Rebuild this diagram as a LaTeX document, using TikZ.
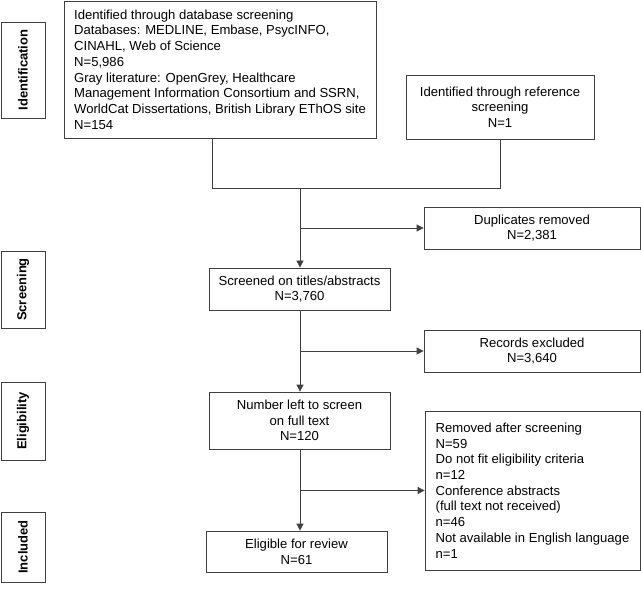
\documentclass[tikz,border=0pt]{standalone}
\usepackage{fontspec}
\setmainfont{Liberation Sans}
\usetikzlibrary{arrows.meta}
\begin{document}
\begin{tikzpicture}[x=1pt,y=-1pt,
  box/.style={draw=black!75, line width=0.8pt, rectangle, inner sep=0pt, font=\fontsize{13.1}{15.7}\selectfont, align=center},
  lbox/.style={box, align=left},
  side/.style={draw=black!75, line width=0.8pt, rectangle, inner sep=0pt, rotate=90, minimum height=44pt, font=\fontsize{13}{15}\selectfont\bfseries},
  conn/.style={draw=black!75, line width=0.8pt},
  arr/.style={conn, -{Triangle[length=7pt,width=7pt]}}]
\useasboundingbox (0,0) rectangle (641,591);
% side labels
\node[side, minimum width=96pt] (sid) at (23,70) {Identification};
\node[side, minimum width=77pt] (sscr) at (23,289.5) {Screening};
\node[side, minimum width=78pt] (selig) at (23,421) {Eligibility};
\node[side, minimum width=70pt] (sinc) at (23,547) {Included};
% boxes
\node[lbox, minimum width=312pt, minimum height=137pt] (db) at (220,69.5) {Identified through database screening\\
Databases: MEDLINE, Embase, PsycINFO,\\
CINAHL, Web of Science\\
N=5,986\\
Gray literature: OpenGrey, Healthcare\\
Management Information Consortium and SSRN,\\
WorldCat Dissertations, British Library EThOS site\\
N=154};
\node[box, minimum width=188pt, minimum height=64pt] (ref) at (500,107) {Identified through reference\\ screening\\ N=1};
\node[box, minimum width=216pt, minimum height=42pt] (dup) at (532,228) {Duplicates removed\\ N=2,381};
\node[box, minimum width=181pt, minimum height=42pt] (scr) at (299.5,289) {Screened on titles/abstracts\\ N=3,760};
\node[box, minimum width=216pt, minimum height=42pt] (rec) at (532,351) {Records excluded\\ N=3,640};
\node[box, minimum width=181pt, minimum height=57pt] (num) at (299.5,420.5) {Number left to screen\\ on full text\\ N=120};
\node[lbox, minimum width=215pt, minimum height=159pt] (rem) at (532.5,490.5) {Removed after screening\\
N=59\\
Do not fit eligibility criteria\\
n=12\\
Conference abstracts\\
(full text not received)\\
n=46\\
Not available in English language\\
n=1};
\node[box, minimum width=181pt, minimum height=41pt] (eli) at (296.5,551.5) {Eligible for review\\ N=61};
% connectors
\coordinate (m1) at (212,188);
\coordinate (join) at (300,188);
\draw[conn] (db.south -| m1) -- (m1) -- (join);
\draw[conn] (ref.south) |- (join);
\draw[arr] (join) -- (scr.north -| join);
\draw[arr] (join |- dup.west) -- (dup.west);
\draw[arr] (scr.south -| join) -- (num.north -| join);
\draw[arr] (join |- rec.west) -- (rec.west);
\draw[arr] (num.south -| join) -- (eli.north -| join);
\draw[arr] (join |- rem.west) -- (rem.west);
\end{tikzpicture}
\end{document}
